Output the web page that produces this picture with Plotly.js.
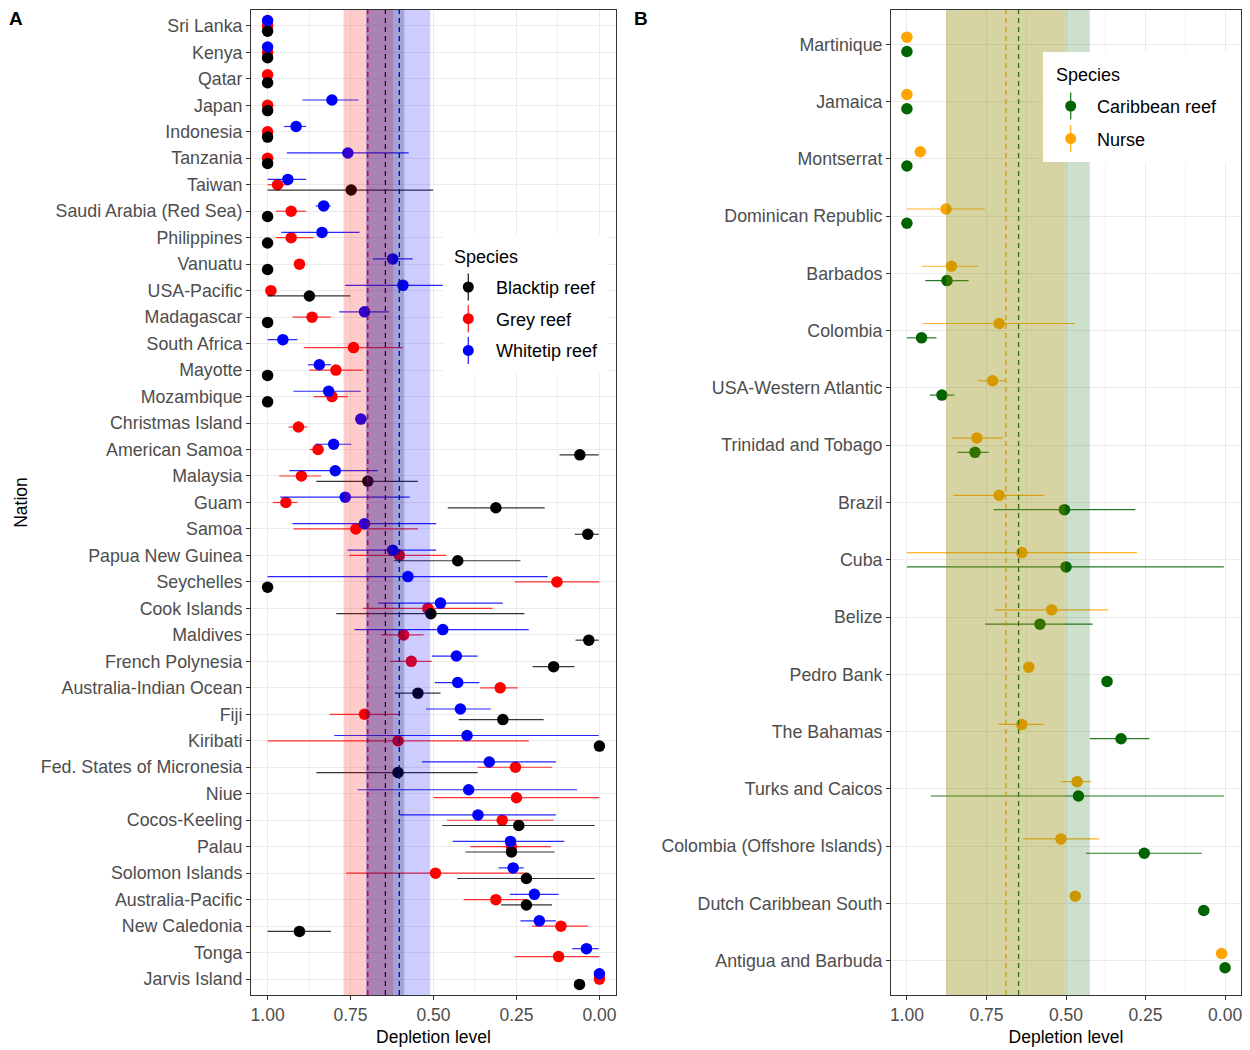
<!DOCTYPE html>
<html><head><meta charset="utf-8">
<script src="https://cdn.plot.ly/plotly-3.0.1.min.js"></script>
<style>body{margin:0;background:#fff}#chart{width:1250px;height:1050px}</style>
</head><body><div id="chart"></div>
<script>
// ---------- Panel A data ----------
const nationsA = ["Sri Lanka","Kenya","Qatar","Japan","Indonesia","Tanzania","Taiwan","Saudi Arabia (Red Sea)","Philippines","Vanuatu","USA-Pacific","Madagascar","South Africa","Mayotte","Mozambique","Christmas Island","American Samoa","Malaysia","Guam","Samoa","Papua New Guinea","Seychelles","Cook Islands","Maldives","French Polynesia","Australia-Indian Ocean","Fiji","Kiribati","Fed. States of Micronesia","Niue","Cocos-Keeling","Palau","Solomon Islands","Australia-Pacific","New Caledonia","Tonga","Jarvis Island"];

const whitetipVal = [1.0,1.0,null,0.806,0.914,0.758,0.939,0.831,0.836,0.623,0.592,0.708,0.954,0.844,0.816,0.719,0.801,0.796,0.766,0.708,0.623,0.577,0.479,0.472,0.431,0.427,0.419,0.399,0.332,0.394,0.366,0.268,0.26,0.196,0.181,0.039,0.0];
const whitetipLo  = [1.0,1.0,null,0.726,0.884,0.575,0.884,0.81,0.723,0.563,0.472,0.635,0.91,0.809,0.719,0.70,0.748,0.668,0.572,0.492,0.492,0.156,0.291,0.213,0.367,0.362,0.327,0.002,0.131,0.067,0.131,0.106,0.228,0.123,0.131,0.002,0.0];
const whitetipHi  = [1.0,1.0,null,0.895,0.95,0.942,1.0,0.855,0.959,0.682,0.766,0.784,1.0,0.878,0.922,0.735,0.856,0.934,0.962,0.925,0.759,1.0,0.667,0.738,0.505,0.496,0.522,0.799,0.535,0.729,0.602,0.442,0.304,0.27,0.238,0.082,0.0];

const greyVal = [1,1,1,1,1,1,0.97,0.929,0.929,0.904,0.99,0.866,0.741,0.794,0.806,0.907,0.848,0.898,0.945,0.734,0.603,0.128,0.517,0.59,0.567,0.299,0.708,0.607,0.253,0.25,0.293,0.265,0.494,0.312,0.116,0.123,0.0];
const greyLo  = [1,1,1,1,1,1,0.937,0.884,0.861,0.904,0.99,0.809,0.593,0.713,0.759,0.881,0.831,0.839,0.91,0.547,0.462,0.0,0.322,0.53,0.505,0.246,0.603,0.213,0.143,0.0,0.138,0.146,0.213,0.218,0.034,0.0,0.0];
const greyHi  = [1,1,1,1,1,1,1.0,0.975,0.975,0.904,0.99,0.925,0.891,0.874,0.861,0.937,0.873,0.965,0.984,0.922,0.754,0.255,0.713,0.658,0.63,0.359,0.813,1.0,0.367,0.5,0.459,0.389,0.763,0.409,0.203,0.255,0.0];

const blacktipVal = [1,1,1,1,1,1,0.748,1,1,1,0.874,1,null,1,1,null,0.059,0.698,0.312,0.035,0.427,1.0,0.508,0.032,0.138,0.547,0.291,0.0,0.607,null,0.243,0.265,0.22,0.22,0.904,null,0.06];
const blacktipLo  = [1,1,1,1,1,1,0.501,1,1,1,0.751,1,null,1,1,null,0.002,0.547,0.165,0.002,0.238,1,0.226,0.002,0.075,0.479,0.168,0.0,0.367,null,0.014,0.135,0.014,0.143,0.809,null,0.06];
const blacktipHi  = [1,1,1,1,1,1,1.0,1,1,1,1.0,1,null,1,1,null,0.12,0.853,0.457,0.074,0.62,1,0.793,0.072,0.201,0.617,0.424,0.0,0.853,null,0.474,0.404,0.429,0.296,1.0,null,0.06];

const speciesA  = ["Blacktip reef","Grey reef","Whitetip reef"];
const meanA     = [0.645, 0.698, 0.603];
const bandLoA   = [0.588, 0.623, 0.51];
const bandHiA   = [0.703, 0.771, 0.703];

// ---------- Panel B data ----------
const nationsB = ["Martinique","Jamaica","Montserrat","Dominican Republic","Barbados","Colombia","USA-Western Atlantic","Trinidad and Tobago","Brazil","Cuba","Belize","Pedro Bank","The Bahamas","Turks and Caicos","Colombia (Offshore Islands)","Dutch Caribbean South","Antigua and Barbuda"];
const nurseVal = [1.0,1.0,0.958,0.877,0.86,0.71,0.731,0.78,0.71,0.639,0.545,0.617,0.639,0.465,0.516,0.471,0.011];
const nurseLo  = [1,1,0.958,0.755,0.776,0.472,0.691,0.699,0.568,0.277,0.367,0.617,0.571,0.421,0.395,0.471,0.011];
const nurseHi  = [1,1,0.958,1.0,0.954,0.951,0.776,0.858,0.854,1.0,0.723,0.617,0.712,0.516,0.634,0.471,0.011];
const caribVal = [1,1,1,1,0.874,0.954,0.89,0.786,0.505,0.5,0.582,0.371,0.327,0.461,0.254,0.067,0.0];
const caribLo  = [1,1,1,1,0.806,0.907,0.851,0.743,0.282,0.004,0.416,0.371,0.238,0.004,0.073,0.067,0.0];
const caribHi  = [1,1,1,1,0.942,1.0,0.928,0.841,0.727,1.0,0.754,0.371,0.425,0.925,0.437,0.067,0.0];

const speciesB = ["Caribbean reef","Nurse"];
const meanB    = [0.649, 0.689];
const bandLoB  = [0.425, 0.502];
const bandHiB  = [0.877, 0.877];

const xTicks = [1, 0.75, 0.5, 0.25, 0];

// ---------- helpers ----------
function buildTrace(name, vals, lo, hi, stackTopToBottom, rankIdx, w, color, errColor, xa, ya) {
  const x = [], y = [], ep = [], em = [];
  vals.forEach((v, i) => {
    if (v === null) return;
    const present = stackTopToBottom.map((s, k) => s[i] !== null ? k : -1).filter(k => k >= 0);
    const n = present.length;
    const r = present.indexOf(rankIdx);
    const off = -w / 2 + w / (2 * n) + r * w / n;
    x.push(v); y.push(i + off);
    ep.push(hi[i] - v); em.push(v - lo[i]);
  });
  return {
    type: 'scatter', mode: 'markers', name: name, x: x, y: y,
    xaxis: xa, yaxis: ya, showlegend: false,
    marker: {color: color, size: 11.5, line: {width: 0}},
    error_x: {type: 'data', symmetric: false, array: ep, arrayminus: em, color: errColor, thickness: 1.2, width: 0},
    hoverinfo: 'x+name'
  };
}

const stackA = [whitetipVal, greyVal, blacktipVal];
const stackB = [nurseVal, caribVal];

const colA = ['0,0,0', '255,0,0', '0,0,255'];
const colB = ['0,100,0', '255,165,0'];

const data = [
  buildTrace(speciesA[1], greyVal, greyLo, greyHi, stackA, 1, 0.6, 'rgb(' + colA[1] + ')', 'rgba(' + colA[1] + ',0.8)', 'x', 'y'),
  buildTrace(speciesA[0], blacktipVal, blacktipLo, blacktipHi, stackA, 2, 0.6, 'rgb(' + colA[0] + ')', 'rgba(' + colA[0] + ',0.8)', 'x', 'y'),
  buildTrace(speciesA[2], whitetipVal, whitetipLo, whitetipHi, stackA, 0, 0.6, 'rgb(' + colA[2] + ')', 'rgba(' + colA[2] + ',0.85)', 'x', 'y'),
  buildTrace(speciesB[0], caribVal, caribLo, caribHi, stackB, 1, 0.5, 'rgb(' + colB[0] + ')', 'rgba(' + colB[0] + ',0.85)', 'x2', 'y2'),
  buildTrace(speciesB[1], nurseVal, nurseLo, nurseHi, stackB, 0, 0.5, 'rgb(' + colB[1] + ')', 'rgba(' + colB[1] + ',0.85)', 'x2', 'y2')
];

const shapes = [];
const annotations = [];
function addRefs(means, los, his, cols, xref, yref) {
  means.forEach((m, k) => shapes.push({type: 'line', xref: xref, yref: yref, x0: m, x1: m, y0: 0, y1: 1, layer: 'above',
    line: {color: 'rgb(' + cols[k] + ')', width: 1.3, dash: '5px,4px'}}));
  los.forEach((l, k) => shapes.push({type: 'rect', xref: xref, yref: yref, x0: l, x1: his[k], y0: 0, y1: 1, layer: 'above',
    fillcolor: 'rgba(' + cols[k] + ',0.2)', line: {width: 0}}));
}
addRefs(meanA, bandLoA, bandHiA, colA, 'x', 'y domain');
addRefs(meanB, bandLoB, bandHiB, colB, 'x2', 'y2 domain');

const FONT = 'Liberation Sans, Arial, sans-serif';
const W = 1250, H = 1050;
const px = v => v / W, py = v => 1 - v / H;

// custom legend (ggplot-like key: point with vertical error line)
function addLegend(names, cols, box, titleXY, keyX, textX, firstY, stepY) {
  shapes.push({type: 'rect', xref: 'paper', yref: 'paper', x0: px(box[0]), x1: px(box[1]), y0: py(box[3]), y1: py(box[2]),
    fillcolor: '#ffffff', line: {width: 0}, layer: 'above'});
  annotations.push({text: 'Species', xref: 'paper', yref: 'paper', x: px(titleXY[0]), y: py(titleXY[1]), xanchor: 'left', yanchor: 'middle',
    showarrow: false, font: {family: FONT, size: 18, color: '#000'}});
  names.forEach((nm, k) => {
    const cy = firstY + k * stepY;
    shapes.push({type: 'line', xref: 'paper', yref: 'paper', x0: px(keyX), x1: px(keyX), y0: py(cy - 13.5), y1: py(cy + 13.5),
      line: {color: 'rgba(' + cols[k] + ',0.85)', width: 1.3}, layer: 'above'});
    shapes.push({type: 'circle', xref: 'paper', yref: 'paper', x0: px(keyX - 5.5), x1: px(keyX + 5.5), y0: py(cy + 5.5), y1: py(cy - 5.5),
      fillcolor: 'rgb(' + cols[k] + ')', line: {width: 0}, layer: 'above'});
    annotations.push({text: nm, xref: 'paper', yref: 'paper', x: px(textX), y: py(cy + 1), xanchor: 'left', yanchor: 'middle',
      showarrow: false, font: {family: FONT, size: 18, color: '#000'}});
  });
}
addLegend(speciesA, colA, [443, 608, 234, 374], [452, 257], 468.3, 494, 287, 31.7);
addLegend(speciesB, colB, [1043, 1240, 52, 162], [1054, 74.5], 1070.7, 1095, 106, 32.6);

annotations.push({text: '<b>A</b>', xref: 'paper', yref: 'paper', x: px(16), y: py(19), xanchor: 'center', yanchor: 'middle', showarrow: false, font: {family: FONT, size: 19, color: '#000'}});
annotations.push({text: '<b>B</b>', xref: 'paper', yref: 'paper', x: px(641), y: py(19), xanchor: 'center', yanchor: 'middle', showarrow: false, font: {family: FONT, size: 19, color: '#000'}});

const yTickFont = {family: FONT, size: 17.8, color: '#4d4d4d'};
const xTickFont = {family: FONT, size: 17.5, color: '#4d4d4d'};
const yDom = [0.0524, 0.9905];

function xAxis(dom, anchor) {
  return {domain: dom, anchor: anchor, range: [1.05, -0.05], tickmode: 'array', tickvals: xTicks,
    ticktext: xTicks.map(v => v.toFixed(2)), tickfont: xTickFont,
    ticks: 'outside', ticklen: 4, tickcolor: '#333333', showline: true, mirror: true, linecolor: '#333333', linewidth: 1,
    showgrid: true, gridcolor: '#ebebeb', gridwidth: 1, zeroline: false,
    minor: {tickmode: 'linear', tick0: 0, dtick: 0.125, showgrid: true, gridcolor: '#f2f2f2', gridwidth: 1, ticks: ''},
    title: {text: 'Depletion level', font: {family: FONT, size: 17.5, color: '#000'}, standoff: 6}};
}
function yAxis(dom, anchor, labels, withTitle) {
  const ax = {domain: dom, anchor: anchor, range: [labels.length - 0.4, -0.6], tickmode: 'array',
    tickvals: labels.map((_, i) => i), ticktext: labels, tickfont: yTickFont,
    ticks: 'outside', ticklen: 4, tickcolor: '#333333', showline: true, mirror: true, linecolor: '#333333', linewidth: 1,
    showgrid: true, gridcolor: '#ebebeb', gridwidth: 1, zeroline: false};
  if (withTitle) ax.title = {text: 'Nation', font: {family: FONT, size: 17.5, color: '#000'}, standoff: 8};
  return ax;
}

const layout = {
  width: W, height: H, margin: {l: 0, r: 0, t: 0, b: 0},
  paper_bgcolor: '#fff', plot_bgcolor: '#fff', font: {family: FONT},
  xaxis: xAxis([251 / W, 616 / W], 'y'),
  yaxis: yAxis(yDom, 'x', nationsA, true),
  xaxis2: xAxis([891 / W, 1241 / W], 'y2'),
  yaxis2: yAxis(yDom, 'x2', nationsB, false),
  shapes: shapes,
  annotations: annotations,
  showlegend: false
};

Plotly.newPlot('chart', data, layout, {displayModeBar: false, staticPlot: true});
</script>
</body></html>
